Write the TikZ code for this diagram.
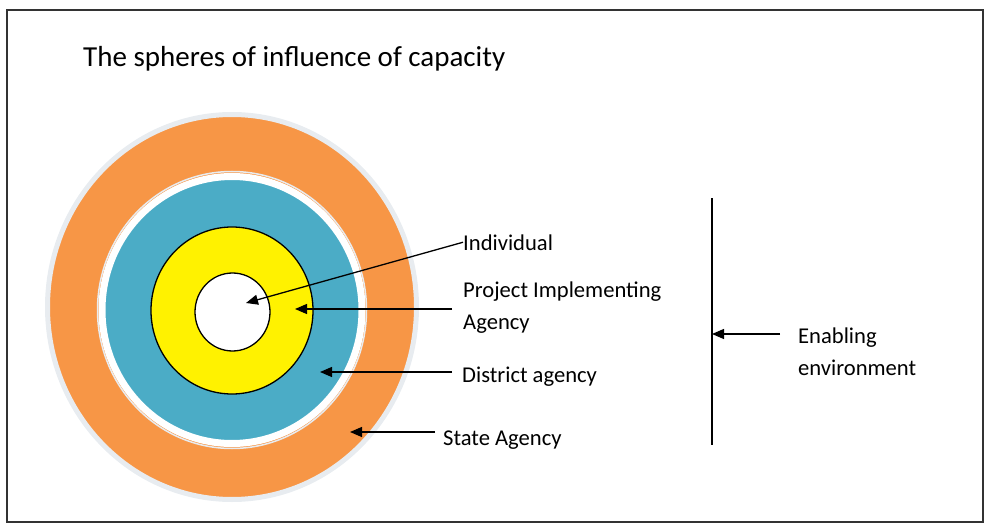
\documentclass[tikz,border=0pt]{standalone}
\usepackage{fontspec}
\setmainfont{Carlito}
\usetikzlibrary{arrows.meta,calc}
\definecolor{ringorange}{HTML}{F79646}
\definecolor{ringblue}{HTML}{4BACC6}
\definecolor{ringedge}{HTML}{E8ECF0}
\tikzset{
	pointer/.style={line width=1.3pt,-{Triangle[length=12pt,width=10pt]}},
	lbl/.style={anchor=base west,inner sep=0pt,font=\fontsize{22.6}{32}\selectfont,align=left},
}
\begin{document}
\begin{tikzpicture}[x=1pt,y=-1pt]
		\useasboundingbox (0,0) rectangle (991,524);
		\draw[line width=1.6pt,black!80] (7,10) rectangle (983,522);
		\node[anchor=base west,inner sep=0pt,font=\fontsize{29}{35}\selectfont] (title) at (83,67) {The spheres of influence of capacity};
		
		% the rings
		\draw[ringedge,line width=5pt,fill=ringorange] (232,307) ellipse [x radius=184.5, y radius=192.5];
		\draw[ringedge,line width=1.5pt] (232,310) ellipse [x radius=134.5, y radius=138.5];
		\draw[white,line width=7pt,fill=ringblue] (232,310) ellipse [x radius=130, y radius=133.5];
		\draw[line width=1.3pt,fill=yellow] (232,310.5) ellipse [x radius=81, y radius=83.5];
		\draw[line width=1.3pt,fill=white] (232.5,312) ellipse [x radius=37.5, y radius=39];
		
		% where the arrows point
		\coordinate (tipInd) at (246,303);
		\coordinate (tipPIA) at (295,309);
		\coordinate (tipDist) at (320,372);
		\coordinate (tipState) at (350,432);
		\coordinate (tipEnv) at (712,334);
		\coordinate (envTop) at (712,198);
		\coordinate (envBot) at (712,445);
		
		% base of a two line label is its last line
		\node[lbl] (ind) at (463,250) {Individual};
		\node[lbl] (pia) at (463,329) {Project Implementing\\Agency};
		\node[lbl] (dist) at (462,382) {District agency};
		\node[lbl] (state) at (443,445) {State Agency};
		\node[lbl] (env) at (798,375) {Enabling\\environment};
		
		\draw[pointer] (ind.west) -- (tipInd);
		\draw[pointer] ($(tipPIA -| pia.west)+(-11,0)$) -- (tipPIA);
		\draw[pointer] ($(tipDist -| dist.west)+(-10,0)$) -- (tipDist);
		\draw[pointer] ($(tipState -| state.west)+(-8,0)$) -- (tipState);
		
		\draw[line width=1.3pt] (envTop) -- (envBot);
		\draw[pointer] ($(tipEnv -| env.west)+(-18,0)$) -- (tipEnv);
	\end{tikzpicture}
\end{document}
